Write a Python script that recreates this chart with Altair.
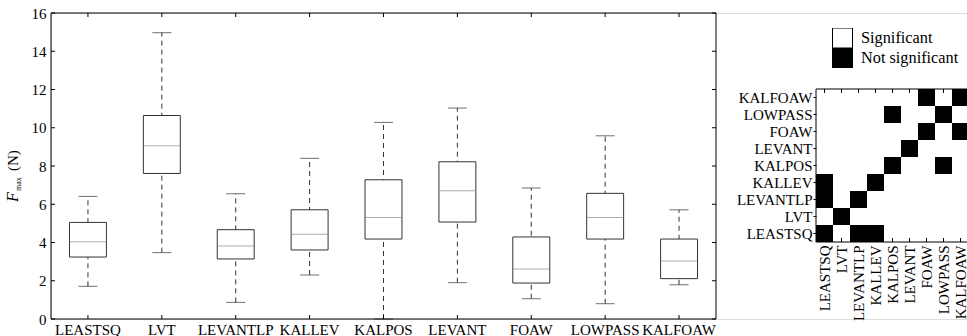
import altair as alt
import pandas as pd

FONT = "Liberation Serif"

# ---- box plot data (F_max in N) ----
cats = ["LEASTSQ", "LVT", "LEVANTLP", "KALLEV", "KALPOS", "LEVANT", "FOAW", "LOWPASS", "KALFOAW"]
whisk_lo = [1.71, 3.47, 0.87, 2.30, 0.00, 1.90, 1.06, 0.80, 1.79]
q1 = [3.24, 7.61, 3.14, 3.61, 4.18, 5.07, 1.88, 4.18, 2.11]
median = [4.04, 9.06, 3.82, 4.43, 5.31, 6.71, 2.61, 5.31, 3.03]
q3 = [5.05, 10.64, 4.67, 5.71, 7.28, 8.22, 4.29, 6.57, 4.18]
whisk_hi = [6.41, 14.97, 6.55, 8.40, 10.28, 11.03, 6.85, 9.58, 5.71]
y_ticks = [0, 2, 4, 6, 8, 10, 12, 14, 16]

# ---- significance matrix: 1 = not significant (row method vs column method) ----
row_LEASTSQ = [1, 0, 1, 1, 0, 0, 0, 0, 0]
row_LVT = [0, 1, 0, 0, 0, 0, 0, 0, 0]
row_LEVANTLP = [1, 0, 1, 0, 0, 0, 0, 0, 0]
row_KALLEV = [1, 0, 0, 1, 0, 0, 0, 0, 0]
row_KALPOS = [0, 0, 0, 0, 1, 0, 0, 1, 0]
row_LEVANT = [0, 0, 0, 0, 0, 1, 0, 0, 0]
row_FOAW = [0, 0, 0, 0, 0, 0, 1, 0, 1]
row_LOWPASS = [0, 0, 0, 0, 1, 0, 0, 1, 0]
row_KALFOAW = [0, 0, 0, 0, 0, 0, 1, 0, 1]
matrix_rows = [row_LEASTSQ, row_LVT, row_LEVANTLP, row_KALLEV, row_KALPOS,
               row_LEVANT, row_FOAW, row_LOWPASS, row_KALFOAW]
status_labels = ["Significant", "Not significant"]

box_df = pd.DataFrame({"cat": cats, "lo": whisk_lo, "q1": q1, "med": median,
                       "q3": q3, "hi": whisk_hi})
heat_df = pd.DataFrame([
    {"row": r, "col": c, "status": status_labels[matrix_rows[i][j]]}
    for i, r in enumerate(cats) for j, c in enumerate(cats)
])
cat_df = pd.DataFrame({"cat": cats})
ytick_df = pd.DataFrame({"v": y_ticks})
one_df = pd.DataFrame({"k": [0]})

# ---------------- box plot ----------------
BW = 665
BH = 306
x_box = alt.X("cat:N", sort=cats,
              scale=alt.Scale(domain=cats, range=[0, BW], paddingInner=0, paddingOuter=0),
              axis=alt.Axis(orient="bottom", title=None, labelAngle=0, ticks=False,
                            labelPadding=3, labelFontSize=15, labelFont=FONT,
                            labelColor="black", domain=False))
y_scale = alt.Scale(domain=[0, 16], nice=False)
y_axis = alt.Axis(orient="left", values=y_ticks, title=None, ticks=False, grid=False,
                  labelFontSize=15, labelFont=FONT, labelColor="black",
                  labelPadding=5, domain=False)

def Y(f):
    return alt.Y(f + ":Q", scale=y_scale, axis=y_axis)

whiskers = alt.Chart(box_df).mark_rule(strokeDash=[5, 4], color="#333333", strokeWidth=1).encode(
    x=x_box, y=Y("lo"), y2="hi:Q")
boxes = alt.Chart(box_df).mark_bar(width={"band": 0.5}, fill="white", stroke="#333333",
                                   strokeWidth=1).encode(x=x_box, y=Y("q1"), y2="q3:Q")
medians = alt.Chart(box_df).mark_tick(size=37, thickness=1, color="#8a8a8a").encode(
    x=x_box, y=Y("med"))
caps_lo = alt.Chart(box_df).mark_tick(size=19, thickness=1, color="#333333").encode(
    x=x_box, y=Y("lo"))
caps_hi = alt.Chart(box_df).mark_tick(size=19, thickness=1, color="#333333").encode(
    x=x_box, y=Y("hi"))

frame = alt.Chart(one_df).mark_rect(fillOpacity=0, stroke="black", strokeWidth=1).encode(
    x=alt.value(0), x2=alt.value(BW), y=alt.value(0), y2=alt.value(BH))
tick_l = alt.Chart(ytick_df).mark_rule(color="black").encode(
    y=Y("v"), x=alt.value(0), x2=alt.value(4))
tick_r = alt.Chart(ytick_df).mark_rule(color="black").encode(
    y=Y("v"), x=alt.value(BW - 4), x2=alt.value(BW))
tick_b = alt.Chart(cat_df).mark_rule(color="black").encode(
    x=x_box, y=alt.value(BH), y2=alt.value(BH - 4))
tick_t = alt.Chart(cat_df).mark_rule(color="black").encode(
    x=x_box, y=alt.value(0), y2=alt.value(4))

t_F = alt.Chart(pd.DataFrame({"t": ["F"]})).mark_text(
    font=FONT, fontSize=16, fontStyle="italic", angle=270, align="left",
    baseline="alphabetic", color="black").encode(text="t:N", x=alt.value(-33), y=alt.value(189))
t_max = alt.Chart(pd.DataFrame({"t": ["max"]})).mark_text(
    font=FONT, fontSize=8, angle=270, align="left",
    baseline="alphabetic", color="black").encode(text="t:N", x=alt.value(-30), y=alt.value(178))
t_N = alt.Chart(pd.DataFrame({"t": ["(N)"]})).mark_text(
    font=FONT, fontSize=15, angle=270, align="left",
    baseline="alphabetic", color="black").encode(text="t:N", x=alt.value(-33), y=alt.value(158))

box_layer = alt.layer(whiskers, boxes, medians, caps_lo, caps_hi, frame,
                      tick_l, tick_r, tick_b, tick_t, t_F, t_max, t_N)

# ---------------- significance heatmap ----------------
HX0, HX1 = 765, 918
HY0, HY1 = 76, 229
x_heat = alt.X("col:N", sort=cats,
               scale=alt.Scale(domain=cats, range=[HX0, HX1], paddingInner=0, paddingOuter=0),
               axis=alt.Axis(orient="bottom", offset=-(BH - HY1), title=None, labelAngle=270,
                             ticks=False, labelPadding=3, labelFontSize=15, labelFont=FONT,
                             labelColor="black", domain=False))
y_heat = alt.Y("row:N", sort=cats[::-1],
               scale=alt.Scale(domain=cats[::-1], range=[HY0, HY1], paddingInner=0, paddingOuter=0),
               axis=alt.Axis(orient="left", offset=-HX0, title=None, ticks=True, tickSize=3,
                             tickColor="black", labelPadding=1, labelFontSize=15,
                             labelFont=FONT, labelColor="black", domain=False))

cells = alt.Chart(heat_df).mark_rect().encode(
    x=x_heat, y=y_heat,
    fill=alt.Fill("status:N",
                  scale=alt.Scale(domain=status_labels, range=["white", "black"]),
                  legend=alt.Legend(orient="none", legendX=781, legendY=15, title=None,
                                    symbolType="square", symbolSize=400,
                                    symbolStrokeColor="black", symbolStrokeWidth=1,
                                    symbolOpacity=1, rowPadding=0, clipHeight=20,
                                    labelFont=FONT, labelFontSize=16.3, labelOffset=8,
                                    labelColor="black")))
heat_frame = alt.Chart(one_df).mark_rect(fillOpacity=0, stroke="black", strokeWidth=1).encode(
    x=alt.value(HX0), x2=alt.value(HX1), y=alt.value(HY0), y2=alt.value(HY1))
htick_b = alt.Chart(cat_df.rename(columns={"cat": "col"})).mark_rule(color="black").encode(
    x=x_heat, y=alt.value(HY1), y2=alt.value(HY1 - 4))
htick_t = alt.Chart(cat_df.rename(columns={"cat": "col"})).mark_rule(color="black").encode(
    x=x_heat, y=alt.value(HY0), y2=alt.value(HY0 + 4))

heat_layer = alt.layer(cells, heat_frame, htick_b, htick_t)

chart = alt.layer(box_layer, heat_layer).resolve_scale(
    x="independent", y="independent"
).properties(
    width=916, height=BH,
    autosize=alt.AutoSizeParams(type="none"),
    padding={"left": 51, "top": 13, "right": 0, "bottom": 17},
).configure_view(stroke=None).configure_axis(
    labelFont=FONT, labelColor="black", grid=False
).configure(background="white")

chart.save("out.html", embed_options={"renderer": "svg", "actions": False})
